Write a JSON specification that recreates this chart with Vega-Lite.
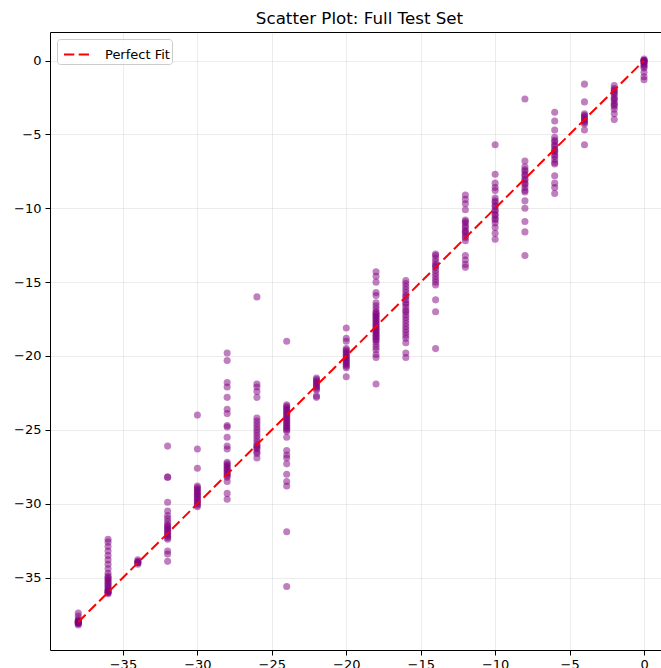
{
  "$schema": "https://vega.github.io/schema/vega-lite/v6.json",
  "width": 611,
  "height": 618,
  "autosize": "none",
  "padding": {"left": 50, "top": 32, "right": 0, "bottom": 18},
  "title": {"text": "Scatter Plot: Full Test Set", "fontSize": 16.7, "font": "DejaVu Sans", "fontWeight": "normal", "color": "black", "offset": 4, "dx": 4},
  "config": {
    "font": "DejaVu Sans",
    "view": {"stroke": null},
    "axis": {
      "labelFont": "DejaVu Sans", "labelFontSize": 13, "labelColor": "black",
      "tickColor": "black", "tickSize": 5, "tickWidth": 1,
      "domainColor": "black", "domainWidth": 1,
      "gridColor": "#b0b0b0", "gridOpacity": 0.3, "gridWidth": 0.8,
      "labelPadding": 4, "title": null
    }
  },
  "datasets": {
    "fit": [{"a": -38, "p": -38}, {"a": 0, "p": 0}],
    "pts": [
      {"a":-38,"p":-37.4},{"a":-38,"p":-37.6},{"a":-38,"p":-37.8},{"a":-38,"p":-37.9},{"a":-38,"p":-38.0},{"a":-38,"p":-38.0},{"a":-38,"p":-38.0},{"a":-38,"p":-38.1},{"a":-38,"p":-38.1},{"a":-38,"p":-38.2},{"a":-38,"p":-37.95},{"a":-38,"p":-38.05},
      {"a":-36,"p":-32.4},{"a":-36,"p":-32.6},{"a":-36,"p":-32.9},{"a":-36,"p":-33.2},{"a":-36,"p":-33.5},{"a":-36,"p":-33.8},{"a":-36,"p":-34.1},{"a":-36,"p":-34.4},{"a":-36,"p":-34.7},{"a":-36,"p":-34.9},{"a":-36,"p":-35.0},{"a":-36,"p":-35.1},{"a":-36,"p":-35.2},{"a":-36,"p":-35.3},{"a":-36,"p":-35.4},{"a":-36,"p":-35.5},{"a":-36,"p":-35.6},{"a":-36,"p":-35.7},{"a":-36,"p":-35.8},{"a":-36,"p":-35.9},{"a":-36,"p":-36.0},{"a":-36,"p":-36.0},{"a":-36,"p":-36.1},{"a":-36,"p":-35.95},
      {"a":-34,"p":-33.8},{"a":-34,"p":-33.9},{"a":-34,"p":-34.0},{"a":-34,"p":-34.0},{"a":-34,"p":-34.1},{"a":-34,"p":-33.95},
      {"a":-32,"p":-26.1},{"a":-32,"p":-28.2},{"a":-32,"p":-28.2},{"a":-32,"p":-29.9},{"a":-32,"p":-30.5},{"a":-32,"p":-30.8},{"a":-32,"p":-31.0},{"a":-32,"p":-31.2},{"a":-32,"p":-31.4},{"a":-32,"p":-31.5},{"a":-32,"p":-31.6},{"a":-32,"p":-31.7},{"a":-32,"p":-31.8},{"a":-32,"p":-31.9},{"a":-32,"p":-32.0},{"a":-32,"p":-32.1},{"a":-32,"p":-32.2},{"a":-32,"p":-32.3},{"a":-32,"p":-32.4},{"a":-32,"p":-33.2},{"a":-32,"p":-33.4},{"a":-32,"p":-33.9},
      {"a":-30,"p":-24.0},{"a":-30,"p":-26.3},{"a":-30,"p":-27.6},{"a":-30,"p":-28.8},{"a":-30,"p":-28.9},{"a":-30,"p":-29.0},{"a":-30,"p":-29.1},{"a":-30,"p":-29.2},{"a":-30,"p":-29.3},{"a":-30,"p":-29.4},{"a":-30,"p":-29.5},{"a":-30,"p":-29.6},{"a":-30,"p":-29.7},{"a":-30,"p":-29.8},{"a":-30,"p":-29.9},{"a":-30,"p":-30.0},{"a":-30,"p":-30.1},{"a":-30,"p":-30.2},
      {"a":-28,"p":-19.8},{"a":-28,"p":-20.3},{"a":-28,"p":-21.8},{"a":-28,"p":-22.1},{"a":-28,"p":-22.8},{"a":-28,"p":-23.6},{"a":-28,"p":-23.9},{"a":-28,"p":-24.7},{"a":-28,"p":-24.8},{"a":-28,"p":-25.5},{"a":-28,"p":-26.1},{"a":-28,"p":-26.3},{"a":-28,"p":-27.2},{"a":-28,"p":-27.3},{"a":-28,"p":-27.4},{"a":-28,"p":-27.5},{"a":-28,"p":-27.6},{"a":-28,"p":-27.7},{"a":-28,"p":-27.8},{"a":-28,"p":-27.9},{"a":-28,"p":-28.0},{"a":-28,"p":-28.1},{"a":-28,"p":-28.2},{"a":-28,"p":-28.5},{"a":-28,"p":-29.3},{"a":-28,"p":-29.7},
      {"a":-26,"p":-16.0},{"a":-26,"p":-21.9},{"a":-26,"p":-22.1},{"a":-26,"p":-22.4},{"a":-26,"p":-22.8},{"a":-26,"p":-24.2},{"a":-26,"p":-24.4},{"a":-26,"p":-24.6},{"a":-26,"p":-24.8},{"a":-26,"p":-25.0},{"a":-26,"p":-25.2},{"a":-26,"p":-25.4},{"a":-26,"p":-25.6},{"a":-26,"p":-25.8},{"a":-26,"p":-26.0},{"a":-26,"p":-26.1},{"a":-26,"p":-26.2},{"a":-26,"p":-26.3},{"a":-26,"p":-26.5},{"a":-26,"p":-26.6},{"a":-26,"p":-26.9},
      {"a":-24,"p":-19.0},{"a":-24,"p":-23.3},{"a":-24,"p":-23.4},{"a":-24,"p":-23.5},{"a":-24,"p":-23.6},{"a":-24,"p":-23.7},{"a":-24,"p":-23.8},{"a":-24,"p":-23.9},{"a":-24,"p":-24.0},{"a":-24,"p":-24.1},{"a":-24,"p":-24.2},{"a":-24,"p":-24.3},{"a":-24,"p":-24.4},{"a":-24,"p":-24.5},{"a":-24,"p":-24.6},{"a":-24,"p":-24.7},{"a":-24,"p":-24.8},{"a":-24,"p":-24.9},{"a":-24,"p":-25.0},{"a":-24,"p":-25.1},{"a":-24,"p":-25.5},{"a":-24,"p":-26.4},{"a":-24,"p":-26.7},{"a":-24,"p":-26.9},{"a":-24,"p":-27.3},{"a":-24,"p":-28.0},{"a":-24,"p":-28.5},{"a":-24,"p":-28.8},{"a":-24,"p":-31.9},{"a":-24,"p":-35.6},
      {"a":-22,"p":-21.5},{"a":-22,"p":-21.6},{"a":-22,"p":-21.7},{"a":-22,"p":-21.8},{"a":-22,"p":-21.9},{"a":-22,"p":-22.0},{"a":-22,"p":-22.1},{"a":-22,"p":-22.2},{"a":-22,"p":-22.3},{"a":-22,"p":-22.7},{"a":-22,"p":-22.8},
      {"a":-20,"p":-18.1},{"a":-20,"p":-18.8},{"a":-20,"p":-19.0},{"a":-20,"p":-19.5},{"a":-20,"p":-19.6},{"a":-20,"p":-19.7},{"a":-20,"p":-19.8},{"a":-20,"p":-19.9},{"a":-20,"p":-20.0},{"a":-20,"p":-20.1},{"a":-20,"p":-20.2},{"a":-20,"p":-20.3},{"a":-20,"p":-20.4},{"a":-20,"p":-20.5},{"a":-20,"p":-20.6},{"a":-20,"p":-20.7},{"a":-20,"p":-20.8},{"a":-20,"p":-21.4},
      {"a":-18,"p":-14.3},{"a":-18,"p":-14.6},{"a":-18,"p":-15.0},{"a":-18,"p":-15.7},{"a":-18,"p":-15.9},{"a":-18,"p":-16.4},{"a":-18,"p":-16.6},{"a":-18,"p":-16.8},{"a":-18,"p":-17.0},{"a":-18,"p":-17.1},{"a":-18,"p":-17.2},{"a":-18,"p":-17.3},{"a":-18,"p":-17.4},{"a":-18,"p":-17.5},{"a":-18,"p":-17.6},{"a":-18,"p":-17.7},{"a":-18,"p":-17.8},{"a":-18,"p":-17.9},{"a":-18,"p":-18.0},{"a":-18,"p":-18.1},{"a":-18,"p":-18.2},{"a":-18,"p":-18.3},{"a":-18,"p":-18.4},{"a":-18,"p":-18.5},{"a":-18,"p":-18.6},{"a":-18,"p":-18.7},{"a":-18,"p":-18.8},{"a":-18,"p":-18.9},{"a":-18,"p":-19.0},{"a":-18,"p":-19.2},{"a":-18,"p":-19.4},{"a":-18,"p":-19.6},{"a":-18,"p":-19.9},{"a":-18,"p":-20.1},{"a":-18,"p":-21.9},
      {"a":-16,"p":-14.9},{"a":-16,"p":-15.1},{"a":-16,"p":-15.3},{"a":-16,"p":-15.5},{"a":-16,"p":-15.7},{"a":-16,"p":-15.9},{"a":-16,"p":-16.0},{"a":-16,"p":-16.2},{"a":-16,"p":-16.4},{"a":-16,"p":-16.5},{"a":-16,"p":-16.7},{"a":-16,"p":-16.9},{"a":-16,"p":-17.0},{"a":-16,"p":-17.2},{"a":-16,"p":-17.4},{"a":-16,"p":-17.6},{"a":-16,"p":-17.8},{"a":-16,"p":-18.0},{"a":-16,"p":-18.2},{"a":-16,"p":-18.4},{"a":-16,"p":-18.6},{"a":-16,"p":-18.8},{"a":-16,"p":-19.1},{"a":-16,"p":-19.8},{"a":-16,"p":-20.1},
      {"a":-14,"p":-13.1},{"a":-14,"p":-13.2},{"a":-14,"p":-13.4},{"a":-14,"p":-13.6},{"a":-14,"p":-13.8},{"a":-14,"p":-13.9},{"a":-14,"p":-14.0},{"a":-14,"p":-14.2},{"a":-14,"p":-14.4},{"a":-14,"p":-14.6},{"a":-14,"p":-14.8},{"a":-14,"p":-15.0},{"a":-14,"p":-15.2},{"a":-14,"p":-16.2},{"a":-14,"p":-17.0},{"a":-14,"p":-19.5},
      {"a":-12,"p":-9.1},{"a":-12,"p":-9.4},{"a":-12,"p":-9.7},{"a":-12,"p":-10.1},{"a":-12,"p":-10.8},{"a":-12,"p":-10.9},{"a":-12,"p":-11.0},{"a":-12,"p":-11.2},{"a":-12,"p":-11.3},{"a":-12,"p":-11.5},{"a":-12,"p":-11.6},{"a":-12,"p":-11.7},{"a":-12,"p":-11.9},{"a":-12,"p":-12.0},{"a":-12,"p":-12.2},{"a":-12,"p":-13.2},{"a":-12,"p":-13.5},{"a":-12,"p":-13.8},{"a":-12,"p":-14.0},
      {"a":-10,"p":-5.7},{"a":-10,"p":-7.7},{"a":-10,"p":-8.3},{"a":-10,"p":-8.6},{"a":-10,"p":-8.8},{"a":-10,"p":-9.3},{"a":-10,"p":-9.5},{"a":-10,"p":-9.6},{"a":-10,"p":-9.8},{"a":-10,"p":-9.9},{"a":-10,"p":-10.1},{"a":-10,"p":-10.2},{"a":-10,"p":-10.4},{"a":-10,"p":-10.5},{"a":-10,"p":-10.7},{"a":-10,"p":-10.8},{"a":-10,"p":-11.0},{"a":-10,"p":-11.3},{"a":-10,"p":-11.7},{"a":-10,"p":-12.1},
      {"a":-8,"p":-2.6},{"a":-8,"p":-6.8},{"a":-8,"p":-7.2},{"a":-8,"p":-7.4},{"a":-8,"p":-7.5},{"a":-8,"p":-7.7},{"a":-8,"p":-7.8},{"a":-8,"p":-8.0},{"a":-8,"p":-8.1},{"a":-8,"p":-8.3},{"a":-8,"p":-8.4},{"a":-8,"p":-8.6},{"a":-8,"p":-8.8},{"a":-8,"p":-8.9},{"a":-8,"p":-9.5},{"a":-8,"p":-10.0},{"a":-8,"p":-10.9},{"a":-8,"p":-11.6},{"a":-8,"p":-13.2},
      {"a":-6,"p":-3.5},{"a":-6,"p":-4.1},{"a":-6,"p":-4.7},{"a":-6,"p":-5.2},{"a":-6,"p":-5.4},{"a":-6,"p":-5.5},{"a":-6,"p":-5.7},{"a":-6,"p":-5.8},{"a":-6,"p":-6.0},{"a":-6,"p":-6.1},{"a":-6,"p":-6.2},{"a":-6,"p":-6.4},{"a":-6,"p":-6.5},{"a":-6,"p":-6.7},{"a":-6,"p":-6.9},{"a":-6,"p":-7.0},{"a":-6,"p":-7.8},{"a":-6,"p":-8.3},{"a":-6,"p":-8.6},{"a":-6,"p":-9.0},
      {"a":-4,"p":-1.6},{"a":-4,"p":-2.8},{"a":-4,"p":-3.6},{"a":-4,"p":-3.7},{"a":-4,"p":-3.8},{"a":-4,"p":-3.9},{"a":-4,"p":-4.0},{"a":-4,"p":-4.1},{"a":-4,"p":-4.2},{"a":-4,"p":-4.3},{"a":-4,"p":-4.7},{"a":-4,"p":-5.7},
      {"a":-2,"p":-1.7},{"a":-2,"p":-1.9},{"a":-2,"p":-2.0},{"a":-2,"p":-2.1},{"a":-2,"p":-2.2},{"a":-2,"p":-2.3},{"a":-2,"p":-2.5},{"a":-2,"p":-2.6},{"a":-2,"p":-2.7},{"a":-2,"p":-2.9},{"a":-2,"p":-3.0},{"a":-2,"p":-3.1},{"a":-2,"p":-3.3},{"a":-2,"p":-3.6},{"a":-2,"p":-4.0},
      {"a":0,"p":0.1},{"a":0,"p":0.0},{"a":0,"p":0.0},{"a":0,"p":0.0},{"a":0,"p":-0.1},{"a":0,"p":-0.1},{"a":0,"p":-0.2},{"a":0,"p":-0.3},{"a":0,"p":-0.4},{"a":0,"p":-0.5},{"a":0,"p":-0.8},{"a":0,"p":-1.1},{"a":0,"p":-1.3}
    ]
  },
  "resolve": {"axis": {"x": "independent"}},
  "layer": [
    {
      "data": {"name": "pts"},
      "mark": {"type": "circle", "color": "#800080", "opacity": 0.5, "size": 50},
      "encoding": {
        "x": {"field": "a", "type": "quantitative", "scale": {"domain": [-39.9, 1.14], "nice": false, "zero": false},
              "axis": {"values": [-35, -30, -25, -20, -15, -10, -5, 0], "orient": "bottom", "labelPadding": 3}},
        "y": {"field": "p", "type": "quantitative", "scale": {"domain": [-39.9, 1.93], "nice": false, "zero": false},
              "axis": {"values": [0, -5, -10, -15, -20, -25, -30, -35]}}
      }
    },
    {
      "data": {"name": "fit"},
      "mark": {"type": "line", "strokeWidth": 2, "strokeDash": [10.3, 4.4]},
      "encoding": {
        "x": {"field": "a", "type": "quantitative", "scale": {"domain": [-39.9, 1.14], "nice": false, "zero": false},
              "axis": {"orient": "top", "labels": false, "ticks": false, "grid": false, "domain": true}},
        "y": {"field": "p", "type": "quantitative", "scale": {"domain": [-39.9, 1.93], "nice": false, "zero": false},
              "axis": {"values": [0, -5, -10, -15, -20, -25, -30, -35]}},
        "color": {"datum": "Perfect Fit", "scale": {"range": ["#ff0000"]},
                  "legend": {"title": null, "orient": "top-left", "offset": 7, "padding": 2,
                             "strokeColor": "#cccccc", "fillColor": "rgba(255,255,255,0.8)", "cornerRadius": 3,
                             "symbolType": "stroke", "symbolSize": 625, "symbolStrokeWidth": 2, "symbolDash": [10.3, 4.4], "symbolOffset": 4,
                             "labelFont": "DejaVu Sans", "labelFontSize": 13, "labelColor": "black", "labelOffset": 15}}
      }
    }
  ]
}
